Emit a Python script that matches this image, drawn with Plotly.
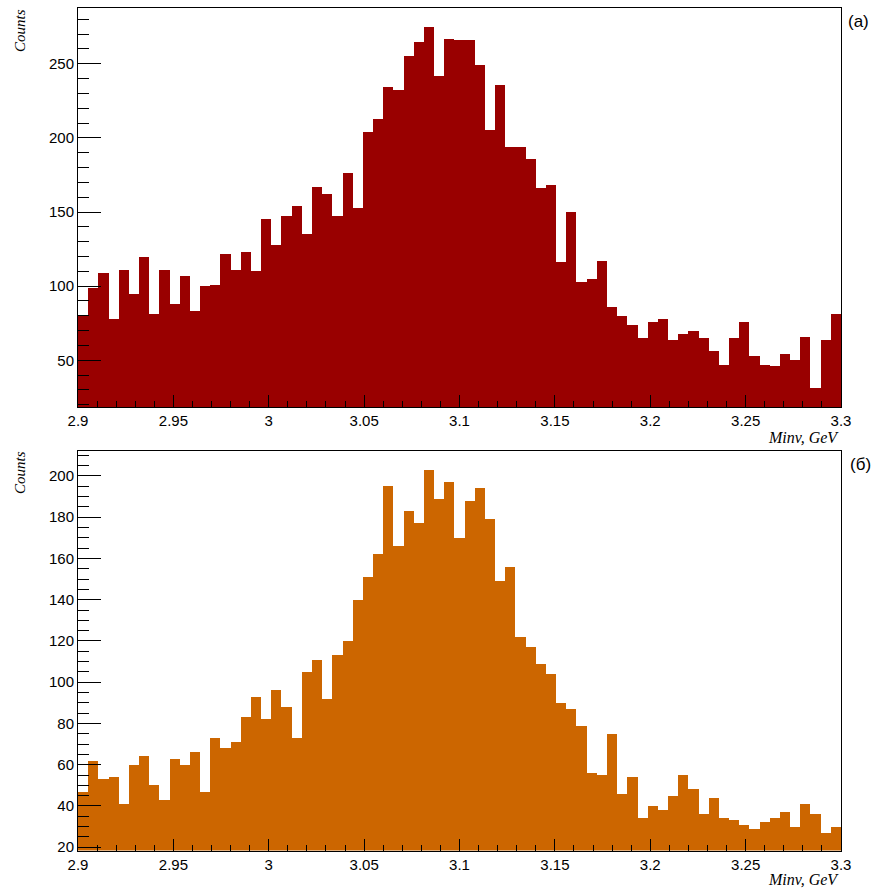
import plotly.graph_objects as go

# ---------------- data ----------------
x_min, x_max, n_bins = 2.9, 3.3, 75

counts_a = [80, 99, 109, 78, 111, 95, 120, 81, 111, 88,
            107, 83, 100, 101, 122, 111, 123, 110, 145, 128,
            147, 154, 135, 167, 162, 147, 176, 153, 204, 213,
            234, 232, 255, 265, 275, 242, 267, 266, 266, 249,
            205, 236, 194, 194, 186, 166, 168, 116, 150, 103,
            105, 117, 86, 80, 74, 65, 76, 78, 64, 68,
            70, 65, 56, 47, 65, 76, 53, 47, 46, 54,
            50, 66, 31, 64, 81]

counts_b = [47, 62, 53, 54, 41, 60, 64, 50, 43, 63,
            60, 66, 47, 73, 68, 71, 83, 93, 82, 96,
            88, 73, 105, 111, 92, 113, 120, 140, 151, 162,
            195, 166, 183, 177, 203, 189, 197, 170, 188, 194,
            179, 149, 156, 122, 117, 109, 104, 90, 87, 79,
            56, 55, 75, 46, 54, 34, 40, 38, 45, 55,
            48, 36, 44, 34, 33, 31, 29, 32, 34, 37,
            30, 41, 36, 27, 30]

x_tick_vals = [2.9, 2.95, 3.0, 3.05, 3.1, 3.15, 3.2, 3.25, 3.3]
x_tick_text = ["2.9", "2.95", "3", "3.05", "3.1", "3.15", "3.2", "3.25", "3.3"]
y_ticks_a = [50, 100, 150, 200, 250]
y_ticks_b = [20, 40, 60, 80, 100, 120, 140, 160, 180, 200]

color_a = "#990000"
color_b = "#cc6600"

bin_w = (x_max - x_min) / n_bins
centers = [x_min + (i + 0.5) * bin_w for i in range(n_bins)]

# ---------------- figure ----------------
W, H = 875, 888
fig = go.Figure()
fig.add_trace(go.Bar(x=centers, y=counts_a, width=bin_w, marker=dict(color=color_a, line=dict(width=0)),
                     xaxis="x", yaxis="y", showlegend=False))
fig.add_trace(go.Bar(x=centers, y=counts_b, width=bin_w, marker=dict(color=color_b, line=dict(width=0)),
                     xaxis="x2", yaxis="y2", showlegend=False))

tick_font = dict(family="Liberation Sans, Arial, sans-serif", size=15, color="black")


def xax(anchor):
    return dict(domain=[78 / W, 841 / W], range=[x_min, x_max], anchor=anchor, automargin=False,
                tickmode="array", tickvals=x_tick_vals, ticktext=x_tick_text,
                ticks="inside", ticklen=12, tickwidth=1, tickcolor="black",
                minor=dict(ticks="inside", ticklen=6, tickcolor="black", dtick=0.01, tick0=2.9, showgrid=False),
                showline=True, linecolor="black", linewidth=1, mirror=True,
                showgrid=False, zeroline=False, tickfont=tick_font)


def yax(anchor, dom, rng, vals, mdt):
    return dict(domain=dom, range=rng, anchor=anchor, automargin=False,
                tickmode="array", tickvals=vals, ticktext=[str(v) for v in vals],
                ticks="inside", ticklen=23, tickwidth=1, tickcolor="black",
                minor=dict(ticks="inside", ticklen=11, tickcolor="black", dtick=mdt, tick0=0, showgrid=False),
                showline=True, linecolor="black", linewidth=1, mirror=True,
                showgrid=False, zeroline=False, tickfont=tick_font)


fig.update_layout(
    width=W, height=H, margin=dict(l=0, r=0, t=0, b=0, autoexpand=False),
    paper_bgcolor="white", plot_bgcolor="white", bargap=0,
    xaxis=xax("y"),
    yaxis=yax("x", [1 - 407 / H, 1 - 8 / H], [18.5, 287.6], y_ticks_a, 10),
    xaxis2=xax("y2"),
    yaxis2=yax("x2", [1 - 850.5 / H, 1 - 451 / H], [18.4, 212.1], y_ticks_b, 5),
)

serif = dict(family="Liberation Serif, Times New Roman, serif", size=16, color="black")
sans = dict(family="Liberation Sans, Arial, sans-serif", size=17, color="black")
anns = [
    dict(text="<i>Counts</i>", x=20 / W, y=1 - 31 / H, textangle=-90, font=dict(serif, size=15)),
    dict(text="<i>Counts</i>", x=20 / W, y=1 - 473 / H, textangle=-90, font=dict(serif, size=15)),
    dict(text="<i>Minv, GeV</i>", x=841 / W, y=1 - 437 / H, xanchor="right", font=serif),
    dict(text="<i>Minv, GeV</i>", x=841 / W, y=1 - 879 / H, xanchor="right", font=serif),
    dict(text="(a)", x=858 / W, y=1 - 22 / H, font=sans),
    dict(text="(б)", x=860 / W, y=1 - 464 / H, font=sans),
]
for a in anns:
    a.setdefault("xanchor", "center")
    fig.add_annotation(xref="paper", yref="paper", yanchor="middle", showarrow=False, **a)

fig.write_html("out.html", config={"displayModeBar": False},
               post_script="document.body.style.margin='0';document.body.style.overflow='hidden';")
